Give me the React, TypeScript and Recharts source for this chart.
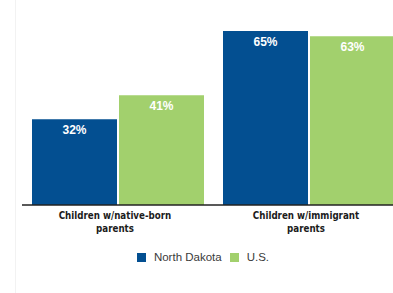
import { BarChart, Bar, XAxis, YAxis, Legend, LabelList } from "recharts";

const categories = ["Children w/native-born parents", "Children w/immigrant parents"];
const northDakota = [32, 65];
const unitedStates = [41, 63];
const seriesNames = ["North Dakota", "U.S."];
const seriesColors = ["#034F91", "#A2D06D"];

const data = categories.map((name, i) => ({
  name,
  nd: northDakota[i],
  us: unitedStates[i],
}));

const labelFont = '"DejaVu Sans Condensed", "DejaVu Sans", sans-serif';

// the reference uses a condensed heavy face, so squeeze the text horizontally
function CategoryTick({ x, y, payload }: any) {
  const words = String(payload.value).split(" ");
  const last = words.pop();
  return (
    <g transform={`translate(${x - 2.5},${y}) scale(0.88,1)`}>
      <text x={0} y={0} textAnchor="middle" fontFamily={labelFont} fontWeight="bold" fontSize={11} fill="#1c1c1c">
        <tspan x={0} dy={14.5}>{words.join(" ")}</tspan>
        <tspan x={0} dy={13}>{last}</tspan>
      </text>
    </g>
  );
}

function LegendRow() {
  return (
    <div
      style={{
        height: 44,
        display: "flex",
        justifyContent: "center",
        alignItems: "flex-start",
        fontFamily: '"Liberation Sans", Arial, sans-serif',
        fontSize: 11.5,
        color: "#3a3a3a",
      }}
    >
      {seriesNames.map((name, i) => (
        <div key={name} style={{ display: "flex", alignItems: "center", height: 16, marginLeft: i ? 8 : 0 }}>
          <span style={{ width: 9, height: 9, background: seriesColors[i], marginRight: 8 }} />
          <span>{name}</span>
        </div>
      ))}
    </div>
  );
}

const valueLabel = {
  position: "insideTop" as const,
  offset: 6,
  formatter: (v: any) => `${v}%`,
  fill: "#fff",
  fontWeight: "bold",
  fontSize: 12,
  fontFamily: '"Liberation Sans", Arial, sans-serif',
};

export default function App() {
  return (
    <div
      style={{
        position: "fixed",
        top: 0,
        left: 0,
        width: 393,
        height: 293,
        overflow: "hidden",
        background: "#fff",
      }}
    >
      <div style={{ position: "absolute", left: 15, top: 0, bottom: 0, borderLeft: "1px solid #f2f2f2" }} />
      <BarChart
        width={408}
        height={293}
        data={data}
        margin={{ top: 31, right: 4, left: 22, bottom: 0 }}
        barCategoryGap={10}
        barGap={2}
      >
        <XAxis
          dataKey="name"
          height={44}
          tickLine={false}
          tickSize={0}
          tickMargin={0}
          axisLine={{ stroke: "#222", strokeWidth: 1.6 }}
          tick={<CategoryTick />}
          interval={0}
        />
        <YAxis hide domain={[0, 65]} />
        <Legend verticalAlign="bottom" wrapperStyle={{ left: 0, width: 406 }} content={<LegendRow />} />
        <Bar dataKey="nd" name={seriesNames[0]} fill={seriesColors[0]} isAnimationActive={false}>
          <LabelList dataKey="nd" {...valueLabel} />
        </Bar>
        <Bar dataKey="us" name={seriesNames[1]} fill={seriesColors[1]} isAnimationActive={false}>
          <LabelList dataKey="us" {...valueLabel} />
        </Bar>
      </BarChart>
    </div>
  );
}
